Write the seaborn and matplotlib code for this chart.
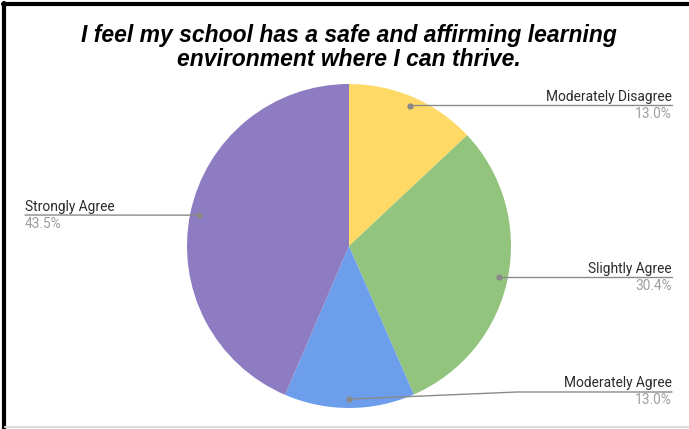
import numpy as np
import matplotlib
matplotlib.use("Agg")
import matplotlib.pyplot as plt
import seaborn as sns
from matplotlib.lines import Line2D

# Survey responses (share of respondents, %)
categories = ["Moderately Disagree", "Slightly Agree", "Moderately Agree", "Strongly Agree"]
values = [13.0, 30.4, 13.0, 43.5]
colors = ["#FFD966", "#93C47D", "#6D9EEB", "#8E7CC3"]
title = "I feel my school has a safe and affirming learning\nenvironment where I can thrive."

sns.set_theme(style="white")
plt.rcParams["font.family"] = ["Roboto", "DejaVu Sans"]

W, H = 689, 429
fig = plt.figure(figsize=(W / 100, H / 100), dpi=100)
ax = fig.add_axes([0, 0, 1, 1])


def Y(y):
    return H - y


cx, cy, r = 349, 246, 162
wedges, _ = ax.pie(values, colors=colors, startangle=90, counterclock=False,
                   radius=r, center=(cx, Y(cy)), frame=True,
                   wedgeprops=dict(linewidth=0))
ax.set_xlim(0, W)
ax.set_ylim(0, H)
ax.axis("off")

# label rows: (side, line y in px)
label_rows = {"Moderately Disagree": ("right", 105),
              "Slightly Agree": ("right", 277),
              "Moderately Agree": ("right", 392),
              "Strongly Agree": ("left", 215)}

line_col = "#8a8a8a"
fs = 9.9
for w, cat, val in zip(wedges, categories, values):
    mid = np.deg2rad((w.theta1 + w.theta2) / 2)
    dx = cx + 0.945 * r * np.cos(mid)
    dy = Y(cy) + 0.945 * r * np.sin(mid)
    side, ly = label_rows[cat]
    ly = Y(ly)
    if side == "right":
        xe = 672
        knee = max(dx, xe - 155) if abs(dy - ly) > 1 else dx
        ax.plot([dx, knee, xe], [dy, ly, ly], color=line_col, lw=1, zorder=3)
        ax.text(xe, ly + 8.5, cat, ha="right", va="center", fontsize=fs, color="#2b2b2b")
        ax.text(xe, ly - 8.5, f"{val:.1f}%", ha="right", va="center", fontsize=fs, color="#9e9e9e")
    else:
        xe = 25
        ax.plot([dx, xe], [dy, ly], color=line_col, lw=1, zorder=3)
        ax.text(xe, ly + 8.5, cat, ha="left", va="center", fontsize=fs, color="#2b2b2b")
        ax.text(xe, ly - 8.5, f"{val:.1f}%", ha="left", va="center", fontsize=fs, color="#9e9e9e")
    ax.plot([dx], [dy], "o", ms=3.5, color=line_col, zorder=4)

ax.text(349, Y(47.5), title, ha="center", va="center", fontsize=16.5,
        fontweight="bold", fontstyle="italic", family=["Liberation Sans", "DejaVu Sans"],
        color="black", linespacing=1.08)

# frame edges of the chart panel
fig.add_artist(Line2D([4 / W, 4 / W], [0, 1 - 3 / H], transform=fig.transFigure, color="black", lw=3))
fig.add_artist(Line2D([3 / W, 1], [1 - 4 / H, 1 - 4 / H], transform=fig.transFigure, color="black", lw=3))
fig.add_artist(Line2D([5 / W, 1], [2.5 / H, 2.5 / H], transform=fig.transFigure, color="#dddddd", lw=1.5))

fig.savefig("out.png", dpi=100)
